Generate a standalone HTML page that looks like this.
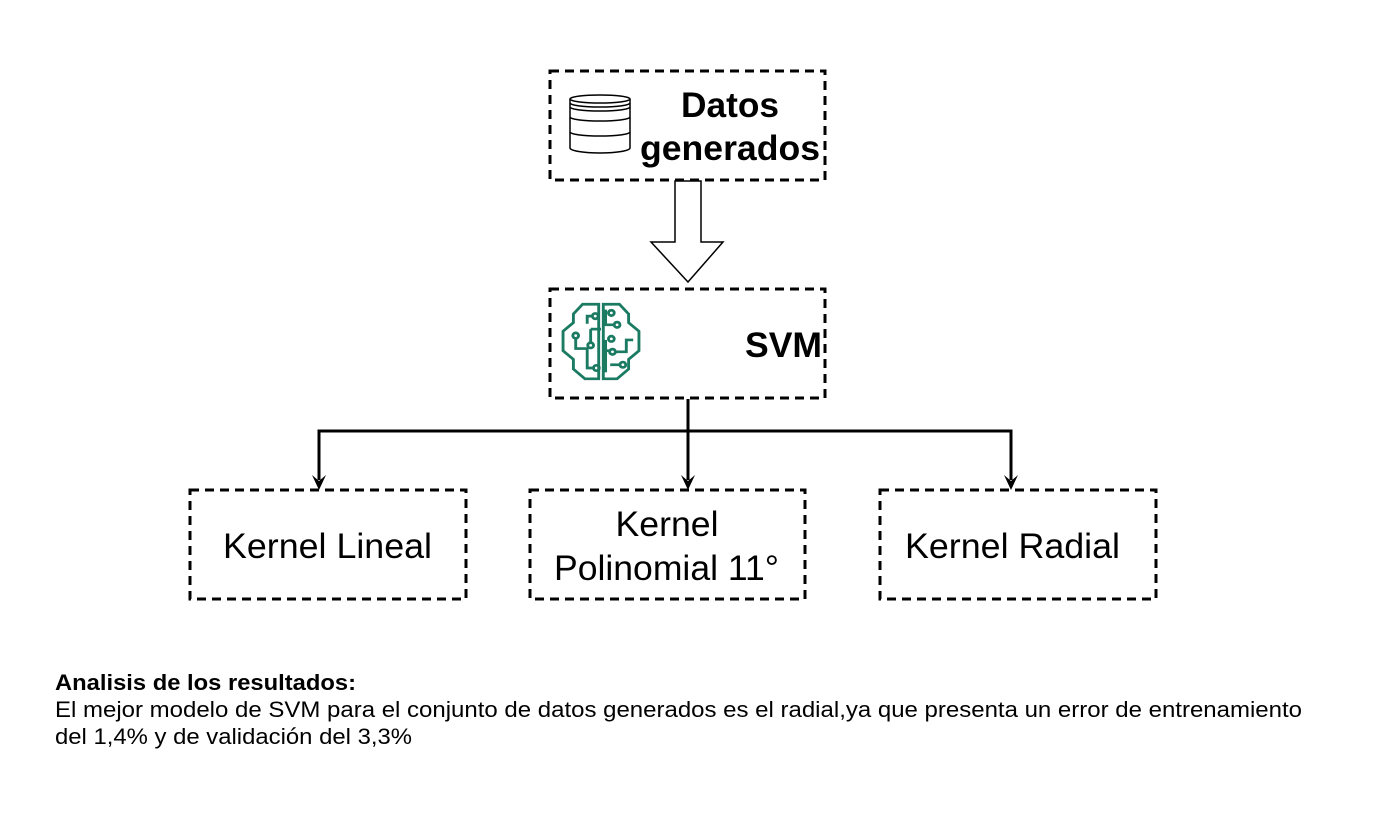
<!DOCTYPE html>
<html><head><meta charset="utf-8"><style>
body{margin:0;background:#fff;}
svg{display:block;font-family:"Liberation Sans",Arial,sans-serif;}
</style></head><body>
<svg width="1378" height="828" viewBox="0 0 1378 828" xmlns="http://www.w3.org/2000/svg">
<rect width="1378" height="828" fill="#fff"/>
<g fill="none" stroke="#000" stroke-width="3" stroke-dasharray="9 6">
<rect x="550" y="71" width="275" height="109"/>
<rect x="550" y="289" width="275" height="109"/>
<rect x="190" y="490" width="276" height="109"/>
<rect x="530" y="490" width="275" height="109"/>
<rect x="880" y="490" width="276" height="109"/>
</g>
<g fill="none" stroke="#000" stroke-width="1.5">
<ellipse cx="600" cy="99" rx="30" ry="4"/>
<path d="M570 99 V148 A30 5 0 0 0 630 148 V99"/>
<path d="M570 103 A30 4 0 0 0 630 103"/>
<path d="M570 107 A30 4 0 0 0 630 107"/>
<path d="M570 117 A30 4 0 0 0 630 117"/>
<path d="M570 132 A30 4 0 0 0 630 132"/>
</g>
<text x="730" y="117" font-size="35" font-weight="bold" text-anchor="middle" textLength="98" lengthAdjust="spacingAndGlyphs">Datos</text>
<text x="730" y="160" font-size="35" font-weight="bold" text-anchor="middle" textLength="180" lengthAdjust="spacingAndGlyphs">generados</text>
<g fill="none" stroke="#1a7a62" stroke-width="2.5" transform="translate(601 341) scale(1.15 1.08) translate(-600 -341)">
<path d="M598 307 L584 307 L576 316 L576 324 L567 332 L567 350 L576 358 L576 367 L586 376 L598 376 Z"/>
<path d="M602 307 L616 307 L624 316 L624 324 L633 332 L633 350 L624 358 L624 367 L614 376 L602 376 Z"/>
<path d="M588 325 L588 318 L592 318"/><circle cx="595" cy="318" r="2.5"/>
<circle cx="578" cy="336" r="2.5"/><path d="M578 339 L578 348 L588 348 L588 366 L593 366"/><circle cx="596" cy="366" r="2.5"/>
<path d="M591 330 L591 342"/><circle cx="591" cy="345" r="2.5"/><path d="M591 330 L600 330"/>
<path d="M604 312 L604 326 L611 326"/><circle cx="614" cy="326" r="2.5"/>
<circle cx="609" cy="315" r="2.5"/>
<path d="M604 340 L604 370"/><path d="M604 350 L608 350"/><circle cx="609" cy="339" r="2.5"/>
<circle cx="610" cy="351" r="2.5"/><path d="M613 351 L622 351 L622 340 L628 340"/>
<circle cx="619" cy="363" r="2.5"/><path d="M616 363 L608 363"/>
</g>
<text x="822" y="357" font-size="35" font-weight="bold" text-anchor="end" textLength="77" lengthAdjust="spacingAndGlyphs">SVM</text>
<path d="M675 181 L701 181 L701 242 L723 242 L688 282 L651 242 L675 242 Z" fill="#fff" stroke="#000" stroke-width="1.5"/>
<g stroke="#000" stroke-width="3" fill="none">
<path d="M688 399 V480"/>
<path d="M319 480 V431 H1011 V480"/>
</g>
<g fill="#000">
<path d="M312 475 L319 481 L326 475 L319 490 Z"/>
<path d="M681 475 L688 481 L695 475 L688 490 Z"/>
<path d="M1004 475 L1011 481 L1018 475 L1011 490 Z"/>
</g>
<text x="223" y="558" font-size="35" textLength="209" lengthAdjust="spacingAndGlyphs">Kernel Lineal</text>
<text x="667" y="536" font-size="35" text-anchor="middle" textLength="103" lengthAdjust="spacingAndGlyphs">Kernel</text>
<text x="554" y="580" font-size="35" textLength="225" lengthAdjust="spacingAndGlyphs">Polinomial 11°</text>
<text x="905" y="558" font-size="35" textLength="215" lengthAdjust="spacingAndGlyphs">Kernel Radial</text>
<text x="55" y="690" font-size="22" font-weight="bold" textLength="301" lengthAdjust="spacingAndGlyphs">Analisis de los resultados:</text>
<text x="55" y="717" font-size="22" textLength="1247" lengthAdjust="spacingAndGlyphs">El mejor modelo de SVM para el conjunto de datos generados es el radial,ya que presenta un error de entrenamiento</text>
<text x="55" y="744" font-size="22" textLength="357" lengthAdjust="spacingAndGlyphs">del 1,4% y de validación del 3,3%</text>
</svg>
</body></html>
